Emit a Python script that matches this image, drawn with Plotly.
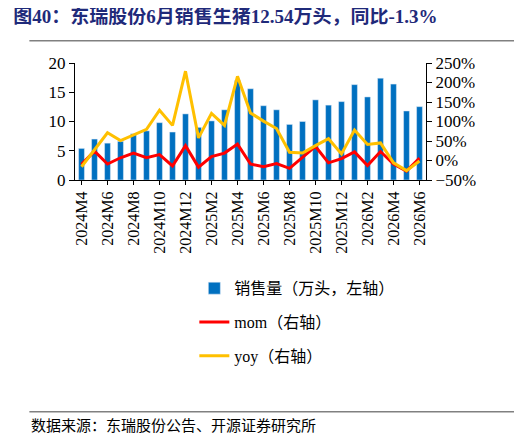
import plotly.graph_objects as go

months = ["2024M4", "2024M5", "2024M6", "2024M7", "2024M8", "2024M9", "2024M10", "2024M11",
          "2024M12", "2025M1", "2025M2", "2025M3", "2025M4", "2025M5", "2025M6", "2025M7",
          "2025M8", "2025M9", "2025M10", "2025M11", "2025M12", "2026M1", "2026M2", "2026M3",
          "2026M4", "2026M5", "2026M6"]
sales = [5.4, 7.0, 6.3, 6.6, 7.9, 8.4, 9.8, 8.2, 11.3, 9.0, 10.1, 12.0, 17.0, 15.6, 12.7,
         12.0, 9.5, 10.0, 13.7, 12.8, 13.4, 16.3, 14.2, 17.4, 16.4, 11.8, 12.54]
mom = [-10, 24, -9, 7, 19, 7, 15, -14, 38, -17, 10, 19, 42, -9, -16, -8, -20, 7, 36, -6,
       5, 22, -13, 23, -9, -27, 6]
yoy = [-16, 28, 71, 51, 65, 80, 129, 90, 229, 58, 121, 90, 216, 122, 101, 82, 21, 19, 38,
       56, 17, 78, 41, 45, -6, -26, -1.3]
tick_months = months[::2]

FONT = "Liberation Serif, Noto Sans CJK SC"

fig = go.Figure()
fig.add_bar(x=months, y=sales, name="销售量（万头，左轴）", marker_color="#0070C0", width=0.45,
            legendgroup="a")
fig.add_scatter(x=months, y=mom, name="mom（右轴）", yaxis="y2", mode="lines",
                line=dict(color="#FF0000", width=3), legendgroup="b")
fig.add_scatter(x=months, y=yoy, name="yoy（右轴）", yaxis="y2", mode="lines",
                line=dict(color="#FFC000", width=3), legendgroup="c")

fig.update_layout(
    width=522, height=436, margin=dict(l=67, r=104, t=55, b=264),
    paper_bgcolor="white", plot_bgcolor="white",
    font=dict(family=FONT, size=17, color="black"),
    showlegend=True,
    legend=dict(x=0.34, y=-0.78, xanchor="left", yanchor="top", tracegroupgap=10,
                traceorder="grouped", font=dict(size=16)),
    xaxis=dict(tickvals=tick_months, tickangle=-90, showline=True, linecolor="black",
               ticks="outside", tickcolor="black", ticklen=4, tickfont=dict(size=16)),
    yaxis=dict(range=[0, 20], dtick=5, showgrid=False, showline=True, linecolor="black",
               ticks="outside", tickcolor="black", zeroline=False),
    yaxis2=dict(range=[-50, 250], dtick=50, ticksuffix="%", overlaying="y", side="right",
                showgrid=False, showline=True, linecolor="black", ticks="outside",
                tickcolor="black", zeroline=False),
    title=dict(text="<b>图40：东瑞股份6月销售生猪12.54万头，同比-1.3%</b>", x=0.01, y=0.995,
               yanchor="top", font=dict(size=19, color="#1F2A7A")),
    shapes=[
        dict(type="line", xref="paper", yref="paper", x0=-0.13, x1=1.3, y0=1.19, y1=1.19,
             line=dict(color="#808080", width=1.5)),
        dict(type="line", xref="paper", yref="paper", x0=-0.13, x1=1.3, y0=-1.98, y1=-1.98,
             line=dict(color="#808080", width=1.5)),
    ],
    annotations=[dict(text="数据来源：东瑞股份公告、开源证券研究所", xref="paper", yref="paper",
                      x=-0.13, y=-2.02, xanchor="left", yanchor="top", showarrow=False,
                      font=dict(size=15))],
)

fig.write_html("out.html")
